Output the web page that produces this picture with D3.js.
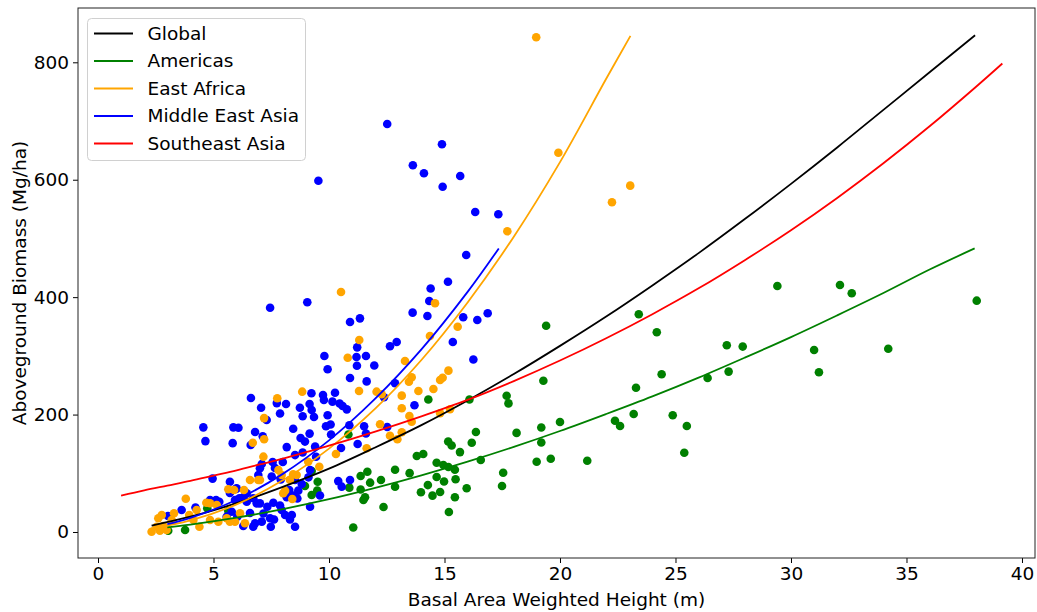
<!DOCTYPE html>
<html>
<head>
<meta charset="utf-8">
<script src="https://cdn.jsdelivr.net/npm/d3@7"></script>
<style>
  html, body { margin: 0; padding: 0; background: #fff; }
  svg { display: block; font-family: "DejaVu Sans", sans-serif; }
</style>
</head>
<body>
<svg id="chart" width="1037" height="612"></svg>
<script>
// ---------------- DATA ----------------
const xTicks = [0, 5, 10, 15, 20, 25, 30, 35, 40];
const yTicks = [0, 200, 400, 600, 800];
const legendLabels = ["Global", "Americas", "East Africa", "Middle East Asia", "Southeast Asia"];
const legendColors = ["#000000", "#008000", "#FFA500", "#0000FF", "#FF0000"];

// Scatter points [x (m), y (Mg/ha)]
const americasPts = [
  [3.04,2],[3.77,3.4],[4.73,40.4],[5.64,36.3],[8.96,78.3],[9.25,103.9],[9.51,85.7],[9.25,63.0],[9.49,70.4],
  [10.84,166.1],[10.88,75.5],[11.05,7.7],[11.37,95.4],[11.66,102.7],[11.78,84.0],[12.25,88.6],[11.37,72.4],
  [11.56,59.1],[11.49,54.5],[12.36,42.6],[12.86,106.0],[13.49,100.2],[12.86,77.2],[13.80,129.4],[14.08,132.8],
  [14.30,225.6],[14.66,118.0],[14.95,114.1],[15.17,110.7],[15.45,106.0],[14.66,93.7],[14.98,86.0],[15.48,89.9],
  [14.28,79.9],[13.98,67.6],[14.48,61.9],[14.81,68.1],[15.16,154.2],[15.31,147.4],[15.67,136.1],[15.96,74.4],
  [15.45,59.1],[15.19,34.1],[16.08,225.6],[16.36,170.3],[16.18,152.1],[16.57,122.6],[17.54,100.8],[17.49,78.3],
  [17.69,232.0],[17.77,219.0],[18.12,168.8],[19.40,351.4],[19.28,257.7],[19.19,178.0],[19.19,152.5],[20.0,187.4],
  [18.99,119.6],[19.60,124.7],[21.18,121.3],[23.41,370.8],[24.19,340.1],[24.40,268.6],[23.29,245.7],[23.19,200.9],
  [22.38,189.5],[22.60,180.5],[24.88,198.8],[25.49,180.5],[25.38,135.0],[26.39,262.3],[27.22,318.1],[27.30,273.2],
  [27.91,315.8],[29.41,419.0],[32.12,420.7],[32.63,406.6],[31.0,310.0],[31.21,272.1],[34.21,312.2],[38.04,394.0]
];
const middleEastAsiaPts = [
  [12.52,694.9],[14.89,660.4],[13.63,624.6],[14.11,611.0],[14.92,588.1],[15.68,606.3],[9.54,598.3],[16.33,545.1],
  [17.33,541.2],[15.94,471.8],[14.40,414.7],[15.15,426.3],[7.45,382.0],[9.06,391.2],[14.34,393.4],[13.62,373.6],
  [14.26,368.0],[15.81,365.7],[16.42,361.1],[16.87,372.5],[10.91,357.7],[11.34,363.9],[15.36,323.6],[12.64,316.3],
  [12.93,323.6],[11.22,314.5],[11.19,298.1],[11.60,299.8],[11.21,283.1],[11.96,283.6],[9.80,299.8],[9.94,277.1],
  [10.91,262.2],[11.63,256.5],[16.25,293.8],[12.86,253.3],[13.70,215.9],[12.38,229.5],[9.24,236.2],[9.74,233.3],
  [10.26,237.2],[9.78,224.9],[10.15,222.0],[10.46,218.9],[10.59,214.6],[10.77,208.9],[9.16,218.0],[9.25,207.8],
  [9.35,195.9],[8.86,197.1],[8.74,211.7],[8.14,217.9],[7.88,201.7],[9.94,198.8],[10.88,181.8],[11.52,180.1],
  [11.60,167.8],[10.07,183.1],[9.87,180.1],[10.09,166.1],[8.45,175.9],[9.16,167.6],[7.06,211.6],[7.30,190.7],
  [6.62,228.1],[7.74,219.5],[8.77,160.1],[8.96,154.0],[8.86,135.4],[8.17,144.6],[10.52,143.0],[11.24,149.9],
  [8.53,131.0],[7.56,119.1],[8.00,119.2],[7.66,109.0],[9.44,128.2],[9.40,145.4],[7.01,108.7],[6.94,97.1],
  [10.40,86.7],[10.91,88.6],[10.55,77.2],[9.61,62.2],[7.91,89.4],[8.53,88.6],[8.82,81.8],[8.67,70.4],
  [8.28,71.5],[8.46,62.2],[8.17,59.3],[8.63,57.1],[9.18,43.0],[9.18,105.5],[9.11,93.1],[7.01,48.8],
  [7.33,43.0],[7.59,49.9],[7.16,31.6],[7.45,23.3],[7.62,21.3],[8.39,28.9],[8.31,21.3],[8.53,8.9],
  [7.48,8.9],[7.88,45.1],[7.95,37.5],[8.10,28.9],[6.72,57.4],[6.87,48.8],[6.58,32.4],[6.44,51.7],
  [6.29,59.3],[6.80,14.8],[6.72,9.1],[6.29,10.2],[7.09,17.6],[5.93,54.5],[6.00,74.4],[5.71,85.7],
  [7.52,94.5],[4.56,178.2],[4.65,154.8],[5.86,178.2],[6.08,177.5],[5.83,151.3],[6.80,170.3],[6.61,148.2],
  [7.13,163.1],[4.96,90.9],[7.09,115.8],[3.62,37.5],[4.22,41.7],[3.03,27.3],[4.85,54.5],[5.11,54.5],
  [5.25,51.6],[5.71,66.5],[5.98,73.3],[5.57,26.1],[5.79,34.6],[6.03,26.1],[6.12,57.4],[6.44,65.9],[12.52,178.9]
];
const eastAfricaPts = [
  [18.97,842.6],[19.93,646],[22.25,561.6],[23.04,589.9],[17.72,512.2],[10.52,408.8],[14.59,389.5],[15.57,349.7],
  [14.37,333.8],[11.31,327],[13.29,291.3],[10.81,296.9],[15.17,274.8],[14.92,262.8],[14.81,258.9],[13.58,263.5],
  [13.46,256],[13.87,240.2],[14.52,243.6],[11.30,240.2],[12.06,239],[12.28,234.5],[13.15,232.2],[8.84,239],
  [7.76,227.7],[7.19,194],[7.19,157.9],[13.15,210.7],[14.81,202.2],[15.24,209],[13.48,197.6],[13.58,187.9],
  [12.21,183.4],[12.64,164],[12.96,157.9],[13.15,169.8],[7.16,128.3],[11.63,142.6],[10.30,132.9],[9.58,111.2],
  [9.10,119.7],[8.45,98.3],[8.60,97.1],[8.31,88.6],[8.10,70.3],[8.02,65.9],[8.41,56.2],[7.01,88.6],
  [6.70,152.1],[6.58,88.6],[5.64,72.7],[5.89,71.5],[6.32,71.5],[6.15,31.8],[5.93,17.5],[6.36,14.8],
  [7.81,105.6],[7.95,97.1],[3.8,56.5],[4.85,48.9],[4.27,37.5],[3.95,29],[4.13,20.4],[4.39,9],
  [2.61,23.3],[2.54,9],[2.32,0.5],[2.83,10.2],[2.97,3.4],[4.85,20.4],[5.21,17.5],[5.57,23.3],
  [5.71,17.5],[5.14,46],[4.69,49.9],[3.29,31.8],[2.76,29],[2.68,2.2],[3.19,20.4],[6.94,88.6]
];

// Fitted curves: x values and y values
const globalCurveX = [2.32, 4, 6, 8, 10, 12, 14, 16, 18, 20, 22, 24, 26, 28, 30, 32, 34, 36, 37.97];
const globalCurveY = [11, 26, 49, 77, 108, 144, 182, 224, 269, 317, 367, 420, 475, 533, 593, 655, 719, 783, 846];
const americasCurveX = [3.0, 4, 6, 8, 10, 12, 14, 16, 18, 20, 22, 24, 26, 28, 30, 32, 34, 36, 37.95];
const americasCurveY = [8, 12.6, 24.4, 38.9, 55.8, 75.1, 96.5, 119.8, 145, 172, 201, 231, 263, 297, 332, 369, 407, 447, 483];
const eastAfricaCurveX = [2.3, 4, 6, 8, 10, 12, 14, 16, 18, 20, 22, 23.05];
const eastAfricaCurveY = [6, 19.7, 47, 88, 142, 210, 293, 391, 503, 630, 772, 845];
const meAsiaCurveX = [3.0, 4, 6, 8, 10, 12, 14, 16, 17.35];
const meAsiaCurveY = [13.3, 24, 55, 99, 156, 227, 311, 409, 483];
const seAsiaCurveX = [1, 2, 3, 4, 5, 6, 7, 8, 9, 10, 12, 14, 16, 18, 20, 22, 24, 26, 28, 30, 32, 34, 36, 38, 39.15];
const seAsiaCurveY = [62, 71, 79, 87, 96, 105, 115, 125, 136, 147, 171, 197, 225, 257, 292, 330, 371, 415, 463, 514, 569, 628, 691, 758, 798];

// ---------------- CHART ----------------
const svg = d3.select("#chart");
const mLeft = 78, mRight = 1035, mTop = 8, mBottom = 558;
const x = d3.scaleLinear().domain([-0.866, 40.563]).range([mLeft, mRight]);
const y = d3.scaleLinear().domain([-44.3, 892.5]).range([mBottom, mTop]);

svg.append("defs").append("clipPath").attr("id", "clip")
  .append("rect").attr("x", mLeft).attr("y", mTop).attr("width", mRight - mLeft).attr("height", mBottom - mTop);

const plot = svg.append("g").attr("clip-path", "url(#clip)");
const R = 4.3;
function dots(pts, color) {
  plot.append("g").selectAll("circle").data(pts).join("circle")
    .attr("cx", d => x(d[0])).attr("cy", d => y(d[1])).attr("r", R).attr("fill", color);
}
dots(americasPts, "#008000");
dots(middleEastAsiaPts, "#0000FF");
dots(eastAfricaPts, "#FFA500");

const line = d3.line().x(d => x(d[0])).y(d => y(d[1])).curve(d3.curveCatmullRom);
function curve(xs, ys, color) {
  plot.append("path").datum(xs.map((v, i) => [v, ys[i]]))
    .attr("d", line).attr("fill", "none").attr("stroke", color).attr("stroke-width", 1.8);
}
curve(globalCurveX, globalCurveY, "#000000");
curve(americasCurveX, americasCurveY, "#008000");
curve(eastAfricaCurveX, eastAfricaCurveY, "#FFA500");
curve(meAsiaCurveX, meAsiaCurveY, "#0000FF");
curve(seAsiaCurveX, seAsiaCurveY, "#FF0000");

// axes
const fs = 18.5;
const xAxis = svg.append("g").attr("transform", `translate(0,${mBottom})`)
  .call(d3.axisBottom(x).tickValues(xTicks).tickSize(5).tickPadding(4).tickFormat(d3.format("d")));
const yAxis = svg.append("g").attr("transform", `translate(${mLeft},0)`)
  .call(d3.axisLeft(y).tickValues(yTicks).tickSize(5).tickPadding(4).tickFormat(d3.format("d")));
[xAxis, yAxis].forEach(a => {
  a.select(".domain").remove();
  a.selectAll("text").attr("font-size", fs).attr("font-family", "DejaVu Sans").attr("fill", "#000");
  a.selectAll("line").attr("stroke", "#000");
});
// spines
svg.append("rect").attr("x", mLeft).attr("y", mTop).attr("width", mRight - mLeft).attr("height", mBottom - mTop)
  .attr("fill", "none").attr("stroke", "#222").attr("stroke-width", 1);

svg.append("text").attr("x", (mLeft + mRight) / 2).attr("y", 606).attr("text-anchor", "middle")
  .attr("font-size", fs).text("Basal Area Weighted Height (m)");
svg.append("text").attr("transform", `translate(26,${(mTop + mBottom) / 2}) rotate(-90)`)
  .attr("text-anchor", "middle").attr("font-size", fs).text("Aboveground Biomass (Mg/ha)");

// legend
const lg = svg.append("g");
lg.append("rect").attr("x", 87.5).attr("y", 18.5).attr("width", 218).attr("height", 142).attr("rx", 4)
  .attr("fill", "#fff").attr("fill-opacity", 0.8).attr("stroke", "#d0d0d0");
legendLabels.forEach((lab, i) => {
  const yy = 33.5 + i * 27.5;
  lg.append("line").attr("x1", 94).attr("x2", 133).attr("y1", yy).attr("y2", yy)
    .attr("stroke", legendColors[i]).attr("stroke-width", 1.8);
  lg.append("text").attr("x", 147.5).attr("y", yy).attr("dy", "0.35em").attr("font-size", fs).text(lab);
});
</script>
</body>
</html>
